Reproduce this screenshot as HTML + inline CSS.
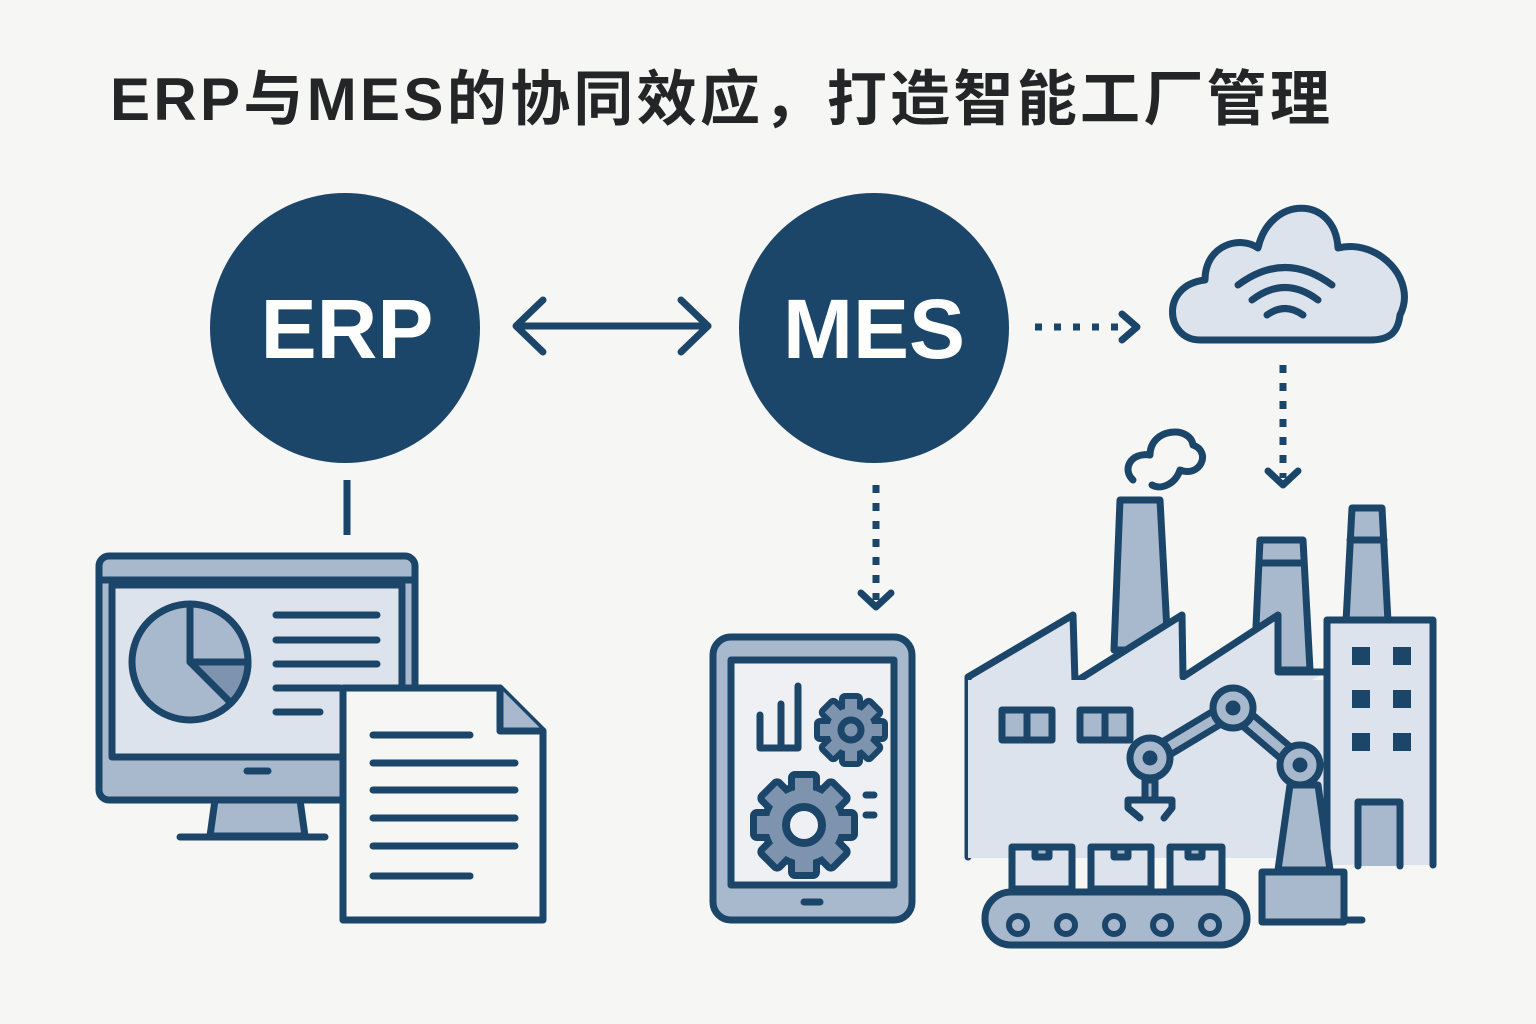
<!DOCTYPE html>
<html><head><meta charset="utf-8"><style>
html,body{margin:0;padding:0;background:#f6f6f4;}
svg{display:block}
</style></head><body>
<svg width="1536" height="1024" viewBox="0 0 1536 1024" xmlns="http://www.w3.org/2000/svg">
<rect width="1536" height="1024" fill="#f6f6f4"/>
<text x="110" y="120" font-family="Liberation Sans, Noto Sans CJK SC, sans-serif" font-weight="bold" font-size="60" fill="#232527" textLength="1220">ERP与MES的协同效应，打造智能工厂管理</text>

<g font-family="Liberation Sans, sans-serif" font-weight="bold" fill="#fff" text-anchor="middle">
<circle cx="345" cy="328" r="135" fill="#1b4669"/>
<text x="347" y="358" font-size="84">ERP</text>
<circle cx="874" cy="328" r="135" fill="#1b4669"/>
<text x="874" y="358" font-size="84">MES</text>
</g>

<g stroke="#1b4669" stroke-width="7" fill="none" stroke-linecap="round" stroke-linejoin="round">
<line x1="518" y1="326" x2="708" y2="326"/>
<polyline points="543,300 516,326 543,352"/>
<polyline points="681,300 708,326 681,352"/>
<line x1="1035" y1="327" x2="1125" y2="327" stroke-dasharray="7 12" stroke-linecap="butt"/>
<polyline points="1122,314 1137,327 1122,340"/>
<line x1="876" y1="485" x2="876" y2="600" stroke-dasharray="8 10" stroke-linecap="butt"/>
<polyline points="861,593 876,607 891,593"/>
<line x1="1283" y1="365" x2="1283" y2="478" stroke-dasharray="8 10" stroke-linecap="butt"/>
<polyline points="1268,471 1283,485 1298,471"/>
<line x1="347" y1="480" x2="347" y2="535" stroke-linecap="butt"/>
</g>

<!-- cloud -->
<path d="M1200,340 C1165,340 1160,285 1205,280 C1205,245 1240,235 1258,248 C1270,195 1335,195 1338,248 C1378,238 1418,280 1400,315 C1398,332 1390,340 1370,340 Z" fill="#dde3ec" stroke="#1b4669" stroke-width="7" stroke-linejoin="round"/>
<g stroke="#1b4669" stroke-width="7" fill="none" stroke-linecap="round">
<path d="M1238,285 Q1285,250 1332,285"/>
<path d="M1252,300 Q1285,275 1318,300"/>
<path d="M1267,315 Q1285,302 1303,315"/>
</g>

<!-- monitor -->
<g stroke="#1b4669" stroke-width="7" stroke-linejoin="round" stroke-linecap="round">
<rect x="99" y="556" width="316" height="244" rx="10" fill="#a9b9cd"/>
<rect x="112" y="585" width="290" height="172" fill="#dde3ec"/>
<line x1="99" y1="580" x2="415" y2="580"/>
<line x1="247" y1="771" x2="268" y2="771"/>
<polygon points="215,800 300,800 305,836 210,836" fill="#a9b9cd"/>
<line x1="180" y1="837" x2="325" y2="837"/>
<circle cx="190" cy="662" r="58" fill="#a9b9cd"/>
<path d="M190,662 L248,662 A58,58 0 0,1 231,703 Z" fill="#7d93ae"/>
<path d="M190,604 L190,662 L248,662" fill="none"/>
<g fill="none">
<line x1="276" y1="615" x2="377" y2="615"/><line x1="276" y1="640" x2="377" y2="640"/>
<line x1="276" y1="664" x2="377" y2="664"/><line x1="276" y1="688" x2="340" y2="688"/>
<line x1="276" y1="712" x2="320" y2="712"/>
</g>
<path d="M343,688 L500,688 L543,731 L543,920 L343,920 Z" fill="#f6f6f4"/>
<path d="M500,688 L500,731 L543,731" fill="#a9b9cd"/>
<g fill="none">
<line x1="373" y1="735" x2="470" y2="735"/><line x1="373" y1="763" x2="515" y2="763"/>
<line x1="373" y1="790" x2="515" y2="790"/><line x1="373" y1="818" x2="515" y2="818"/>
<line x1="373" y1="846" x2="515" y2="846"/><line x1="373" y1="876" x2="470" y2="876"/>
</g>
</g>

<!-- tablet -->
<g stroke="#1b4669" stroke-width="7" stroke-linejoin="round" stroke-linecap="round">
<rect x="713" y="637" width="199" height="283" rx="18" fill="#a9b9cd"/>
<rect x="731" y="660" width="163" height="225" fill="#eef0f3"/>
<line x1="804" y1="902" x2="820" y2="902"/>
<polyline points="760,715 760,748 798,748 798,686" fill="none"/>
<line x1="781" y1="704" x2="781" y2="748"/>
<line x1="866" y1="795" x2="874" y2="795"/><line x1="866" y1="815" x2="874" y2="815"/>
</g>
<!-- small gear -->
<g transform="translate(851,730)">
<g fill="#1b4669" stroke="#1b4669" stroke-width="12" stroke-linejoin="round">
<circle r="22"/>
<rect x="-6" y="-31" width="12" height="62"/>
<rect x="-6" y="-31" width="12" height="62" transform="rotate(45)"/>
<rect x="-6" y="-31" width="12" height="62" transform="rotate(90)"/>
<rect x="-6" y="-31" width="12" height="62" transform="rotate(135)"/>
</g>
<g fill="#7d93ae">
<circle r="22"/>
<rect x="-6" y="-31" width="12" height="62"/>
<rect x="-6" y="-31" width="12" height="62" transform="rotate(45)"/>
<rect x="-6" y="-31" width="12" height="62" transform="rotate(90)"/>
<rect x="-6" y="-31" width="12" height="62" transform="rotate(135)"/>
</g>
<circle r="10" fill="#7d93ae" stroke="#1b4669" stroke-width="7"/>
</g>
<!-- big gear -->
<g transform="translate(804,825)">
<g fill="#1b4669" stroke="#1b4669" stroke-width="14" stroke-linejoin="round">
<circle r="36"/>
<rect x="-9" y="-47" width="18" height="94"/>
<rect x="-9" y="-47" width="18" height="94" transform="rotate(45)"/>
<rect x="-9" y="-47" width="18" height="94" transform="rotate(90)"/>
<rect x="-9" y="-47" width="18" height="94" transform="rotate(135)"/>
</g>
<g fill="#7d93ae">
<circle r="36"/>
<rect x="-9" y="-47" width="18" height="94"/>
<rect x="-9" y="-47" width="18" height="94" transform="rotate(45)"/>
<rect x="-9" y="-47" width="18" height="94" transform="rotate(90)"/>
<rect x="-9" y="-47" width="18" height="94" transform="rotate(135)"/>
</g>
<circle r="18" fill="#eef0f3" stroke="#1b4669" stroke-width="8"/>
</g>

<!-- factory -->
<g stroke="#1b4669" stroke-width="7" stroke-linejoin="round" stroke-linecap="round">
<polygon points="1120,500 1160,500 1168,650 1114,650" fill="#a9b9cd"/>
<polygon points="1260,540 1303,540 1310,670 1254,670" fill="#a9b9cd"/>
<line x1="1260" y1="563" x2="1303" y2="563"/>
<polygon points="1352,508 1382,508 1388,622 1346,622" fill="#a9b9cd"/>
<line x1="1350" y1="540" x2="1384" y2="540"/>
<path d="M968,857 L968,677 L1073,615 L1075,682 L1182,615 L1183,677 L1278,615 L1278,672 L1327,672" fill="#dde3ec"/>
<rect x="968" y="680" width="360" height="178" fill="#dde3ec" stroke="none"/>
<path d="M1327,865 L1327,620 L1433,620 L1433,865" fill="#dde3ec"/>
<g fill="#1b4669" stroke="none">
<rect x="1352" y="647" width="18" height="18"/><rect x="1393" y="647" width="18" height="18"/>
<rect x="1352" y="690" width="18" height="18"/><rect x="1393" y="690" width="18" height="18"/>
<rect x="1352" y="733" width="18" height="18"/><rect x="1393" y="733" width="18" height="18"/>
</g>
<path d="M1358,866 L1358,802 L1400,802 L1400,866" fill="#a9b9cd"/>
<rect x="1002" y="710" width="50" height="30" fill="#a9b9cd"/><line x1="1027" y1="710" x2="1027" y2="740"/>
<rect x="1080" y="710" width="50" height="30" fill="#a9b9cd"/><line x1="1105" y1="710" x2="1105" y2="740"/>
<path d="M1133,480 C1122,470 1130,452 1150,455 C1150,428 1190,425 1193,445 C1212,452 1200,478 1180,470 C1175,485 1160,490 1152,485" fill="none"/>
<polygon points="1290,785 1318,785 1330,870 1278,870" fill="#a9b9cd"/>
<rect x="1262" y="872" width="82" height="50" fill="#a9b9cd"/>
<line x1="1344" y1="920" x2="1362" y2="920"/>
<line x1="1150" y1="758" x2="1233" y2="708" stroke-width="22"/>
<line x1="1150" y1="758" x2="1233" y2="708" stroke="#a9b9cd" stroke-width="9"/>
<line x1="1233" y1="708" x2="1300" y2="765" stroke-width="22"/>
<line x1="1233" y1="708" x2="1300" y2="765" stroke="#a9b9cd" stroke-width="9"/>
<circle cx="1150" cy="758" r="20" fill="#a9b9cd"/><circle cx="1150" cy="758" r="4" fill="#1b4669"/>
<circle cx="1233" cy="708" r="20" fill="#a9b9cd"/><circle cx="1233" cy="708" r="4" fill="#1b4669"/>
<circle cx="1300" cy="765" r="20" fill="#a9b9cd"/><circle cx="1300" cy="765" r="4" fill="#1b4669"/>
<rect x="1145" y="780" width="10" height="20" fill="#a9b9cd"/>
<polyline points="1140,818 1128,808 1128,800 1172,800 1172,808 1164,818" fill="none"/>
<rect x="1012" y="847" width="60" height="42" fill="#dde3ec"/><rect x="1035" y="847" width="14" height="10" fill="#a9b9cd"/>
<rect x="1091" y="847" width="60" height="42" fill="#dde3ec"/><rect x="1114" y="847" width="14" height="10" fill="#a9b9cd"/>
<rect x="1170" y="847" width="52" height="42" fill="#dde3ec"/><rect x="1188" y="847" width="14" height="10" fill="#a9b9cd"/>
<rect x="985" y="892" width="262" height="53" rx="26" fill="#a9b9cd"/>
<g fill="#a9b9cd" stroke-width="6">
<circle cx="1018" cy="925" r="9"/><circle cx="1066" cy="925" r="9"/><circle cx="1114" cy="925" r="9"/><circle cx="1162" cy="925" r="9"/><circle cx="1210" cy="925" r="9"/>
</g>
</g>
</svg>
</body></html>
